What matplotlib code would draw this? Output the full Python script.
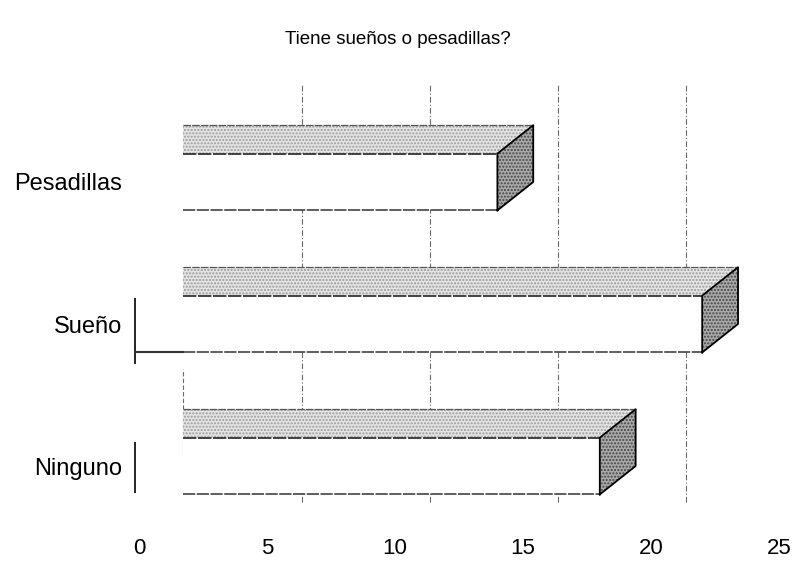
import numpy as np
import matplotlib.pyplot as plt
from matplotlib.patches import Polygon

plt.rcParams['font.family'] = ['Liberation Sans', 'DejaVu Sans']

# data
categories = ['Ninguno', 'Sueño', 'Pesadillas']
values = [18, 22, 14]
x_ticks = [0, 5, 10, 15, 20, 25]
grid_vals = [5, 10, 15, 20]

# 3d look
depth_x = 1.4
depth_y = 0.2
bar_h = 0.4
bar_start = 1.72

W, H = 796, 577
fig = plt.figure(figsize=(W / 100, H / 100), dpi=100)
ax = fig.add_axes([139 / W, (H - 520) / H, 640 / W, (520 - 60) / H])
ax.set_xlim(0, 25)
ax.set_ylim(-0.38, 2.859)

# back wall gridlines (dashed, scanned look)
ax.vlines([g + depth_x - 0.05 for g in grid_vals], -0.25, 2.68, colors='#6a6a6a',
          linestyles=(0, (5, 2, 1, 2)), linewidth=0.8, zorder=1)
ax.vlines([bar_start], 0.07, 0.68, colors='#6a6a6a', linestyles=(0, (4, 2)),
          linewidth=0.8, zorder=1)

top_col = '#e4e4e4'
side_col = '#a9a9a9'

for i, v in enumerate(values):
    y0 = i - bar_h / 2
    y1 = i + bar_h / 2
    x0 = bar_start
    # front face
    front = Polygon([(x0, y0), (v, y0), (v, y1), (x0, y1)], closed=True,
                    facecolor='white', edgecolor='none', zorder=3)
    ax.add_patch(front)
    # top face
    top = [(x0, y1), (v, y1), (v + depth_x, y1 + depth_y), (x0, y1 + depth_y)]
    ax.add_patch(Polygon(top, closed=True, facecolor=top_col, edgecolor='#9a9a9a',
                         linewidth=0, hatch='.....', zorder=3))
    # side face
    side = [(v, y0), (v + depth_x, y0 + depth_y), (v + depth_x, y1 + depth_y), (v, y1)]
    ax.add_patch(Polygon(side, closed=True, facecolor=side_col, edgecolor='#444444',
                         linewidth=0, hatch='.....', zorder=3))
    # outlines
    ax.plot([x0, v], [y0, y0], color='#333333', linewidth=1.1, linestyle=(0, (8, 1)), zorder=4)
    ax.plot([x0, v], [y1, y1], color='#222222', linewidth=1.2, linestyle=(0, (8, 1)), zorder=4)
    ax.plot([x0, v + depth_x], [y1 + depth_y, y1 + depth_y], color='#555555',
            linewidth=0.9, linestyle=(0, (6, 1)), zorder=4)
    ax.plot([v, v, v + depth_x, v + depth_x, v], [y0, y1, y1 + depth_y, y0 + depth_y, y0],
            color='black', linewidth=1.3, zorder=4)

# broken front axis line from the scan
ax.vlines([-0.16, -0.16], [0.72, -0.19], [1.18, 0.17], colors='black', linewidth=1.2,
          clip_on=False, zorder=4)
ax.plot([-0.16, bar_start], [1 - bar_h / 2, 1 - bar_h / 2], color='#333333',
        linewidth=1.5, clip_on=False, zorder=4)

ax.set_yticks(range(len(categories)), categories)
ax.set_xticks(x_ticks, [str(t) for t in x_ticks])
ax.tick_params(axis='y', length=0, pad=12, labelsize=17)
ax.tick_params(axis='x', length=0, pad=13, labelsize=16)
for s in ax.spines.values():
    s.set_visible(False)

fig.text(0.5, 1 - 40 / H, 'Tiene sueños o pesadillas?', ha='center', va='center',
         fontsize=13.5)

fig.savefig('out.png', dpi=100)
